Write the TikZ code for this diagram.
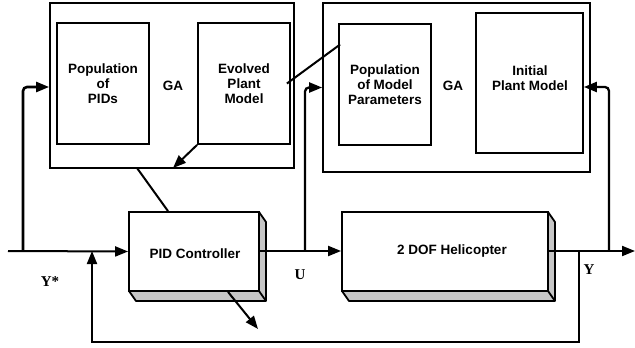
\documentclass[tikz,border=0pt]{standalone}
\usepackage{fontspec}
\setmainfont{Liberation Sans}
\newfontfamily\serifb{Liberation Serif}
\usetikzlibrary{arrows.meta,calc}
\begin{document}
\begin{tikzpicture}[x=1pt,y=-1pt,
  box/.style={draw, line width=1.8pt, inner sep=0pt, align=center,
    font=\fontsize{13.5}{15}\selectfont\bfseries},
  txt/.style={inner sep=0pt, align=center, font=\fontsize{13.5}{15}\selectfont\bfseries},
  sig/.style={line width=2pt},
  arr/.style={sig, -{Triangle[length=13pt,width=10pt]}},
  lab/.style={font=\serifb\fontsize{15}{15}\selectfont\bfseries},
  shade/.style={draw, line width=1.8pt, fill=gray!45, line join=round}]
\useasboundingbox (0,0) rectangle (635,348);

% GA boxes
\node[box, minimum width=244pt, minimum height=165pt] (ga1) at (172,85.5) {};
\node[box, minimum width=92pt, minimum height=121pt] (pop1) at (103,83.5) {Population\\of\\PIDs};
\node[box, minimum width=92pt, minimum height=121pt] (evo) at (244,83.5) {Evolved\\Plant\\Model};
\node[txt] (galab1) at (173,86) {GA};

\node[box, minimum width=267pt, minimum height=169pt] (ga2) at (456.5,87.5) {};
\node[box, minimum width=92pt, minimum height=121pt] (pop2) at (385,84.5) {Population\\of Model\\Parameters};
\node[box, minimum width=107pt, minimum height=140pt] (init) at (529.5,83) {};
\node[txt] (inittxt) at (530,78) {Initial\\Plant Model};
\node[txt] (galab2) at (453,86) {GA};

% 3D blocks
\filldraw[shade] (259,212) -- (266,222) -- (266,301) -- (136,301) -- (129,291) -- (259,291) -- cycle;
\draw[line width=1.8pt] (259,291) -- (266,301);
\node[box, fill=white, minimum width=130pt, minimum height=79pt] (pid) at (194,251.5) {};
\node[txt] (pidtxt) at (195,254) {PID Controller};

\filldraw[shade] (548,212) -- (555,222) -- (555,301) -- (349,301) -- (342,291) -- (548,291) -- cycle;
\draw[line width=1.8pt] (548,291) -- (555,301);
\node[box, fill=white, minimum width=206pt, minimum height=79pt] (heli) at (445,251.5) {};
\node[txt] (helitxt) at (452,251) {2 DOF Helicopter};

% signal coordinates
\coordinate (in) at (8,251);
\coordinate (j1) at (23,251);
\coordinate (fbtip) at (92,251);
\coordinate (j2) at (305,251);
\coordinate (j3) at (579,251);
\coordinate (j4) at (609,251);
\coordinate (out) at (635,251);
\coordinate (fbbot) at (92,342);
\coordinate (ga1bot) at (173,168);
\coordinate (ga1top) at (137,168);
\coordinate (pidarr) at (258,329);

% main signal path
\draw[arr] (in) -- (pid.west);
\draw[arr] (pid.east |- j2) -- (heli.west |- j2);
\draw[arr] (heli.east |- j3) -- (out);

% feedback
\draw[arr] (j3) |- (fbbot) -- (fbtip);

% to GA boxes
\draw[arr, line width=2.6pt, rounded corners=4pt] (j1) |- ([yshift=-1.5pt]ga1.west);
\draw[arr, line width=2.3pt, rounded corners=4pt] (j2) |- (ga2.west);
\draw[arr, line width=2.3pt, rounded corners=4pt] (j4) |- ([yshift=-4pt]init.east);

% GA internals
\draw[arr] (evo.south west) -- (ga1bot);
\draw[sig] ([xshift=-4pt]evo.east) -- ([xshift=2pt,yshift=40pt]pop2.west);
\draw[sig] (ga1top) -- ([xshift=-26pt]pid.north);
\draw[arr] ([xshift=34pt]pid.south) -- (pidarr);

% labels
\node[lab] (ystar) at (50,282) {Y*};
\node[lab] (ulab) at (300,275) {U};
\node[lab] (ylab) at (589,270) {Y};
\end{tikzpicture}
\end{document}
